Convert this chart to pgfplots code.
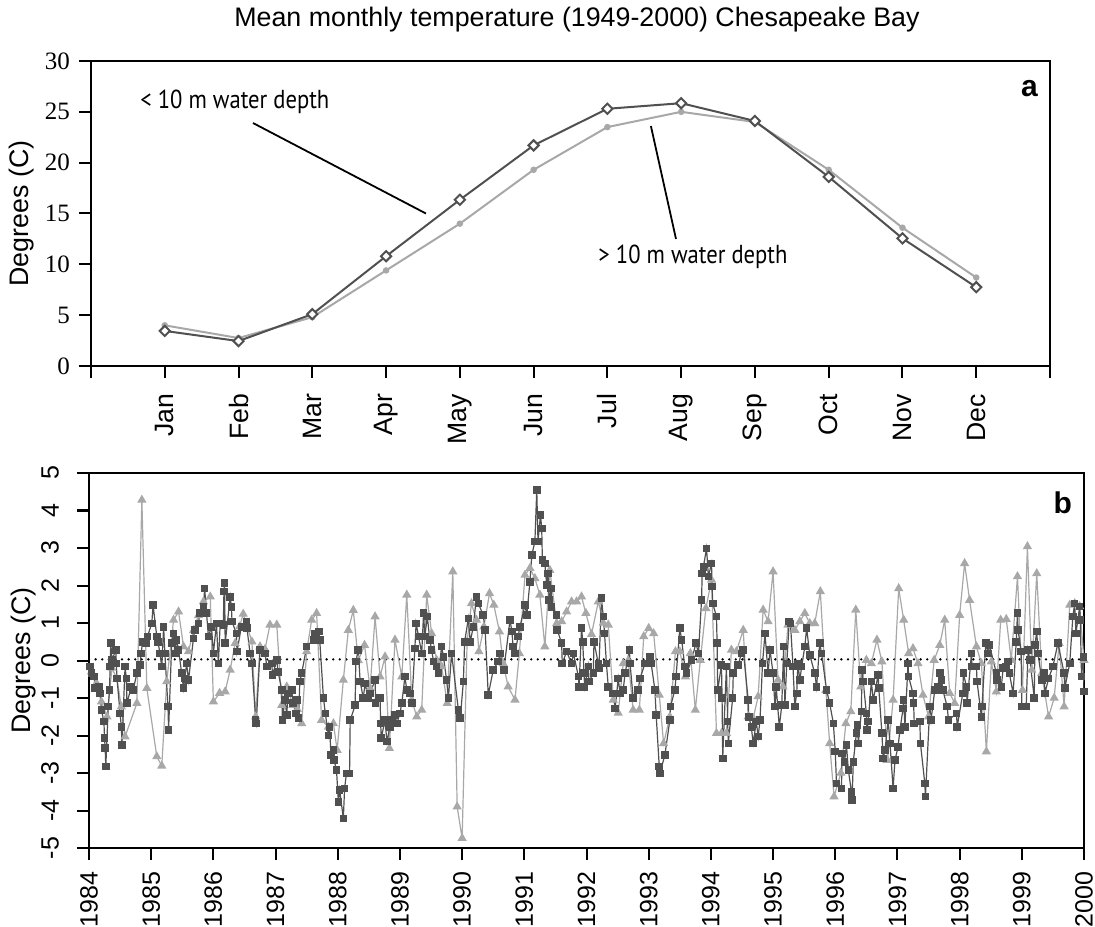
\documentclass[border=0pt]{standalone}
\usepackage{fontspec}
\setmainfont{Liberation Sans}
\newfontfamily\seriffont{Liberation Serif}
\newfontfamily\annotfont[FakeStretch=0.87]{PT Sans}
\usepackage{pgfplots}
\pgfplotsset{compat=1.18}
\definecolor{darkser}{HTML}{505050}
\definecolor{lightser}{HTML}{A8A8A8}

\pgfplotstableread{
t v
0.04 -0.30
0.12 -0.60
0.20 -1.10
0.29 -1.50
0.37 -0.20
0.45 -0.50
0.52 -1.23
0.58 -2.03
0.77 -1.14
0.85 4.28
0.93 -0.74
1.09 -2.56
1.17 -2.81
1.25 -0.56
1.36 1.08
1.44 1.30
1.52 0.37
1.60 0.24
1.68 0.80
1.76 1.20
1.84 1.57
1.95 1.70
2.00 -1.10
2.10 -0.87
2.19 -0.83
2.27 -0.25
2.35 0.46
2.42 0.90
2.48 1.24
2.62 0.50
2.68 -1.50
2.75 0.37
2.83 0.30
2.91 0.95
3.02 0.95
3.10 -1.19
3.18 -0.70
3.28 -1.19
3.35 -1.30
3.42 -1.68
3.50 0.24
3.58 1.08
3.66 1.26
3.74 -1.59
3.85 -1.77
3.93 -1.68
3.99 -2.39
4.09 -0.52
4.17 0.81
4.25 1.34
4.33 0.00
4.43 0.41
4.52 -0.74
4.60 1.17
4.68 -0.43
4.76 0.10
4.83 -2.34
4.92 0.55
5.03 -0.43
5.11 1.75
5.19 -1.05
5.27 -1.50
5.35 -1.32
5.43 1.75
5.51 0.72
5.59 0.01
5.67 -0.16
5.76 -1.14
5.85 2.37
5.92 -3.90
6.00 -4.74
6.08 0.50
6.15 1.52
6.23 1.08
6.27 0.24
6.35 0.90
6.44 1.79
6.51 1.48
6.60 0.77
6.66 -0.08
6.74 -0.70
6.85 -1.05
6.92 0.19
7.01 2.28
7.09 2.46
7.17 2.19
7.25 1.75
7.33 0.37
7.41 2.41
7.52 0.99
7.60 1.04
7.68 1.30
7.76 1.57
7.84 1.57
7.92 1.70
7.99 1.26
8.08 0.70
8.19 1.57
8.27 1.00
8.35 0.95
8.43 -1.05
8.51 -1.40
8.59 -0.08
8.67 0.00
8.75 -1.32
8.85 -1.32
8.92 0.64
9.00 0.86
9.08 0.72
9.17 -0.92
9.24 -2.21
9.34 -1.50
9.43 0.24
9.50 0.24
9.59 -0.43
9.67 0.19
9.75 -1.32
9.83 0.01
9.92 1.39
10.01 2.15
10.09 -1.94
10.17 -1.94
10.25 -1.94
10.33 0.28
10.41 0.24
10.52 0.81
10.60 -1.50
10.68 -1.54
10.76 -0.96
10.84 1.35
10.92 1.04
11.00 2.37
11.08 -0.52
11.16 -0.70
11.24 0.95
11.35 0.81
11.43 1.04
11.51 1.26
11.59 0.99
11.67 0.99
11.76 1.84
11.85 -0.79
11.91 -2.21
11.98 -3.63
12.09 -3.00
12.17 -1.68
12.25 -1.36
12.33 1.35
12.41 -0.70
12.50 0.01
12.58 -0.08
12.67 0.55
12.75 -0.03
12.84 -2.66
12.93 -1.05
13.02 1.92
13.10 1.08
13.18 0.19
13.25 0.32
13.33 -0.08
13.41 -0.92
13.50 -1.50
13.59 0.01
13.68 0.41
13.76 1.08
13.84 -0.87
13.92 -1.14
14.00 1.21
14.08 2.59
14.16 1.61
14.27 0.37
14.35 -0.08
14.43 -2.43
14.51 -0.03
14.59 -0.83
14.66 1.08
14.75 1.10
14.83 0.01
14.93 2.24
15.01 -0.79
15.09 3.04
15.16 -0.25
15.24 2.32
15.32 -0.34
15.43 -1.50
15.52 -1.00
15.60 0.46
15.68 -1.23
15.77 1.48
15.85 1.52
15.93 1.44
16.00 0.01
}\deepdata

\pgfplotstableread{
t v
0.02 -0.16
0.04 -0.34
0.08 -0.43
0.10 -0.74
0.16 -0.70
0.18 -0.88
0.20 -1.32
0.24 -1.63
0.25 -2.07
0.26 -2.34
0.27 -2.83
0.31 -1.23
0.33 -0.79
0.34 -0.16
0.35 0.46
0.37 0.01
0.43 0.28
0.44 -0.08
0.45 -0.48
0.50 -1.41
0.52 -1.77
0.53 -2.25
0.58 -0.16
0.60 -0.48
0.61 -1.14
0.68 -0.70
0.71 -0.79
0.77 -0.34
0.82 -0.12
0.84 0.19
0.86 0.50
0.92 0.46
0.94 0.64
1.01 0.99
1.03 1.48
1.09 0.64
1.11 0.50
1.14 0.19
1.17 -0.16
1.20 0.90
1.22 0.19
1.27 -1.23
1.28 -1.85
1.33 0.46
1.36 0.72
1.38 0.19
1.41 0.55
1.44 0.28
1.49 -0.34
1.52 -0.74
1.54 -0.48
1.57 -0.08
1.60 -0.52
1.68 0.59
1.70 0.81
1.76 0.99
1.78 1.26
1.84 1.43
1.86 1.92
1.89 1.26
1.92 0.64
1.97 0.90
2.00 0.19
2.05 0.99
2.08 -0.08
2.11 0.99
2.16 0.95
2.17 1.84
2.18 2.06
2.19 0.46
2.27 1.70
2.29 1.43
2.30 1.04
2.37 0.72
2.38 0.24
2.45 0.90
2.53 1.04
2.54 0.86
2.59 0.19
2.62 -0.08
2.68 -1.59
2.69 -1.68
2.75 0.28
2.83 0.19
2.86 -0.16
2.94 -0.08
2.95 -0.39
3.02 0.01
3.04 -0.30
3.10 -0.79
3.11 -1.59
3.15 -1.05
3.18 -1.45
3.20 -0.88
3.26 -0.79
3.28 -1.14
3.33 -1.41
3.34 -1.05
3.37 -1.54
3.39 -0.56
3.42 -0.34
3.50 0.37
3.61 0.55
3.63 0.72
3.70 0.77
3.71 0.55
3.77 -1.00
3.80 -1.41
3.85 -2.00
3.87 -1.77
3.89 -2.52
3.93 -2.39
3.94 -2.65
3.98 -2.92
4.01 -3.77
4.03 -3.45
4.09 -4.21
4.11 -3.41
4.14 -3.01
4.19 -3.01
4.20 -1.59
4.28 -1.19
4.29 -0.03
4.33 0.28
4.36 -0.56
4.41 -1.00
4.44 -0.61
4.49 -1.00
4.52 -0.88
4.60 -0.52
4.61 -1.14
4.68 -1.00
4.69 -1.68
4.70 -2.07
4.76 -1.59
4.79 -2.16
4.84 -1.77
4.87 -1.59
4.92 -1.45
4.95 -1.68
5.00 -1.41
5.03 -1.14
5.08 -0.43
5.11 -0.79
5.16 -0.88
5.19 -1.14
5.24 0.32
5.26 0.99
5.30 0.64
5.35 0.19
5.38 1.26
5.40 0.64
5.44 1.17
5.48 0.55
5.51 0.28
5.54 -0.03
5.59 -0.16
5.62 -0.34
5.67 0.37
5.70 0.10
5.75 -0.52
5.78 -1.00
5.83 0.19
5.94 -1.32
5.97 -1.54
6.02 -0.56
6.04 0.50
6.10 1.12
6.13 0.50
6.18 0.90
6.23 1.70
6.26 1.52
6.34 1.21
6.37 0.81
6.42 -0.92
6.50 -0.25
6.58 -0.03
6.61 0.19
6.67 -0.25
6.77 1.08
6.80 0.77
6.82 0.37
6.85 0.19
6.90 0.64
6.93 0.90
7.01 1.48
7.04 1.21
7.09 2.10
7.12 2.81
7.17 3.17
7.20 4.55
7.22 3.17
7.26 3.88
7.28 3.52
7.29 2.68
7.33 2.59
7.36 2.01
7.38 2.32
7.40 1.61
7.43 1.92
7.44 1.43
7.52 1.21
7.53 0.81
7.60 0.46
7.61 -0.08
7.68 0.24
7.76 -0.08
7.79 0.19
7.87 -0.43
7.88 -0.70
7.92 0.86
7.94 0.50
7.96 -0.34
7.97 -0.70
8.03 -0.16
8.04 -0.56
8.11 -0.34
8.12 0.50
8.19 -0.08
8.20 -0.20
8.24 1.66
8.27 1.17
8.29 0.72
8.32 -0.08
8.35 -0.70
8.43 -0.88
8.46 -1.28
8.51 -0.48
8.54 -0.88
8.59 -0.79
8.62 -0.34
8.69 0.28
8.70 -0.08
8.75 -1.00
8.83 -0.79
8.86 -0.48
8.94 -0.08
9.02 0.10
9.04 -0.08
9.10 -0.79
9.12 -1.45
9.17 -2.83
9.18 -3.01
9.26 -2.52
9.34 -1.59
9.35 -1.23
9.42 -0.79
9.44 -0.43
9.50 0.86
9.53 0.55
9.58 -0.16
9.61 -0.34
9.69 0.01
9.76 0.46
9.80 0.19
9.85 1.61
9.86 2.32
9.88 2.50
9.93 2.99
9.96 2.24
10.01 2.59
10.02 1.97
10.03 1.52
10.09 1.17
10.10 0.46
10.11 -0.79
10.17 -0.12
10.18 -1.00
10.19 -2.61
10.25 -0.16
10.27 -1.63
10.28 -2.21
10.35 -1.00
10.36 -0.34
10.44 -0.12
10.49 0.19
10.52 0.28
10.60 -1.05
10.61 -1.50
10.65 -1.77
10.68 -2.21
10.73 -1.63
10.76 -2.03
10.79 -1.59
10.83 -0.08
10.87 0.72
10.92 -0.34
10.95 0.28
11.00 -0.34
11.03 -1.23
11.05 -0.70
11.10 -1.77
11.14 -1.19
11.17 0.37
11.19 -1.19
11.22 -0.08
11.26 1.04
11.28 0.99
11.32 -0.16
11.35 -1.23
11.38 -0.88
11.40 -0.08
11.43 -0.52
11.46 -0.16
11.51 0.37
11.54 0.86
11.59 0.15
11.67 -0.34
11.70 -0.70
11.75 0.46
11.78 0.19
11.86 -0.79
11.91 -1.14
11.97 -1.68
12.00 -2.43
12.02 -3.28
12.10 -3.41
12.11 -2.48
12.15 -2.70
12.18 -2.25
12.21 -2.92
12.26 -3.50
12.27 -3.72
12.29 -2.70
12.34 -1.94
12.36 -1.72
12.37 -2.21
12.42 -1.36
12.43 -0.25
12.45 -0.56
12.50 -1.41
12.51 -1.85
12.53 -1.63
12.58 -0.56
12.61 -1.05
12.69 -0.39
12.70 -0.74
12.75 -1.94
12.77 -2.61
12.80 -2.39
12.85 -1.59
12.88 -2.21
12.93 -3.41
12.96 -2.66
13.01 -2.30
13.04 -1.85
13.09 -1.28
13.10 -1.05
13.12 -1.77
13.17 -0.08
13.18 -0.43
13.25 -0.88
13.26 -1.14
13.27 -1.68
13.36 -1.63
13.37 -2.21
13.44 -3.28
13.45 -3.63
13.52 -1.23
13.54 -1.59
13.60 -0.79
13.65 -0.70
13.68 -0.34
13.71 -0.52
13.73 -0.79
13.80 -1.23
13.82 -1.59
13.95 -1.41
13.96 -1.77
14.05 -0.88
14.06 -0.34
14.11 -0.70
14.12 -1.14
14.19 0.19
14.20 -0.16
14.27 -0.16
14.28 -0.56
14.35 -1.50
14.36 -1.23
14.42 0.46
14.46 0.19
14.48 0.41
14.59 -0.34
14.60 -0.52
14.67 -0.70
14.70 -0.20
14.75 -0.16
14.78 -0.03
14.80 -0.34
14.86 -0.88
14.91 0.50
14.93 1.26
14.94 0.81
14.99 0.24
15.00 -1.23
15.07 -1.23
15.10 0.28
15.13 0.01
15.20 -1.00
15.21 0.41
15.24 0.77
15.26 0.19
15.32 -0.52
15.36 -0.34
15.37 -0.88
15.43 -0.48
15.50 -0.16
15.58 0.46
15.68 -0.34
15.69 -0.74
15.77 -0.08
15.82 1.17
15.85 1.52
15.87 0.72
15.93 1.44
15.94 1.08
15.96 -0.43
15.99 0.10
16.00 -0.83
}\shallowdata

\begin{document}
\begin{tikzpicture}
\useasboundingbox (0,0) rectangle (547.5pt,463pt);
\node[font=\fontsize{13.4}{16}\selectfont] at (288.5pt,453pt) {Mean monthly temperature (1949-2000) Chesapeake Bay};

\begin{axis}[
  at={(45.5pt,280pt)}, anchor=south west, scale only axis,
  width=479.5pt, height=152.5pt,
  xmin=0, xmax=13, ymin=0, ymax=30,
  xtick={0,...,13},
  xticklabels={,Jan,Feb,Mar,Apr,May,Jun,Jul,Aug,Sep,Oct,Nov,Dec,},
  ytick={0,5,...,30}, yticklabels={0,5,10,15,20,25,30},
  tick align=outside, major tick length=6pt, tick pos=left,
  axis line style={line width=1.1pt},
  tick style={line width=1pt, black},
  xticklabel shift=4.5pt,
  yticklabel shift=1pt,
  xticklabel style={rotate=90, anchor=east, font=\fontsize{13.3}{16}\selectfont},
  yticklabel style={font=\seriffont\fontsize{12.5}{15}\selectfont},
  ylabel={Degrees (C)},
  ylabel style={at={(axis description cs:-0.072,0.5)}, anchor=center, font=\fontsize{13.4}{16}\selectfont},
  clip=false,
]
\addplot[lightser, line width=1pt, mark=*, mark size=1.1pt, mark options={fill=lightser, draw=lightser}] coordinates {
(1,4.0) (2,2.75) (3,4.8) (4,9.4) (5,14.0) (6,19.3) (7,23.5) (8,25.0) (9,24.0) (10,19.3) (11,13.6) (12,8.7)};
\addplot[darkser, line width=1pt, mark=square*, mark size=1.8pt, mark options={rotate=45, fill=white, draw=darkser, line width=1pt}] coordinates {
(1,3.45) (2,2.45) (3,5.1) (4,10.8) (5,16.35) (6,21.7) (7,25.3) (8,25.85) (9,24.1) (10,18.6) (11,12.55) (12,7.75)};
\draw[black, line width=0.9pt] (axis cs:2.196,23.9) -- (axis cs:4.54,15.0);
\draw[black, line width=0.9pt] (axis cs:7.59,23.6) -- (axis cs:7.93,12.5);
\node[font=\annotfont\fontsize{13}{15}\selectfont] at (axis cs:1.95,25.96) {< 10 m water depth};
\node[font=\annotfont\fontsize{13}{15}\selectfont] at (axis cs:8.16,10.72) {> 10 m water depth};
\node[font=\bfseries\fontsize{15}{18}\selectfont] at (axis cs:12.72,27.3) {a};
\end{axis}

\begin{axis}[
  at={(44.5pt,39pt)}, anchor=south west, scale only axis,
  width=497.5pt, height=187.5pt,
  xmin=0, xmax=16, ymin=-5, ymax=5,
  xtick={0,...,16},
  xticklabels={1984,1985,1986,1987,1988,1989,1990,1991,1992,1993,1994,1995,1996,1997,1998,1999,2000},
  ytick={-5,...,5}, yticklabels={-5,-4,-3,-2,-1,0,1,2,3,4,5},
  tick align=outside, major tick length=6pt, tick pos=left,
  axis line style={line width=1.1pt},
  tick style={line width=1pt, black},
  xticklabel shift=2.5pt,
  yticklabel shift=5.5pt,
  xticklabel style={rotate=90, anchor=east, font=\fontsize{12.5}{15}\selectfont},
  yticklabel style={rotate=90, anchor=south, font=\fontsize{12.5}{15}\selectfont},
  ylabel={Degrees (C)},
  ylabel style={at={(axis description cs:-0.066,0.5)}, anchor=center, font=\fontsize{13.4}{16}\selectfont},
  clip=true,
]
\addplot[black, line width=1.3pt, line cap=round, dash pattern=on 0pt off 3.3pt] coordinates {(0,0.03) (16,0.03)};
\addplot[lightser, line width=0.6pt, mark=triangle*, mark size=2.1pt, mark options={fill=lightser, draw=lightser}] table[x=t, y=v] {\deepdata};
\addplot[darkser, line width=0.6pt, mark=square*, mark size=1.6pt, mark options={fill=darkser, draw=darkser}] table[x=t, y=v] {\shallowdata};
\node[font=\bfseries\fontsize{15}{18}\selectfont] at (axis cs:15.66,4.2) {b};
\end{axis}
\end{tikzpicture}
\end{document}
